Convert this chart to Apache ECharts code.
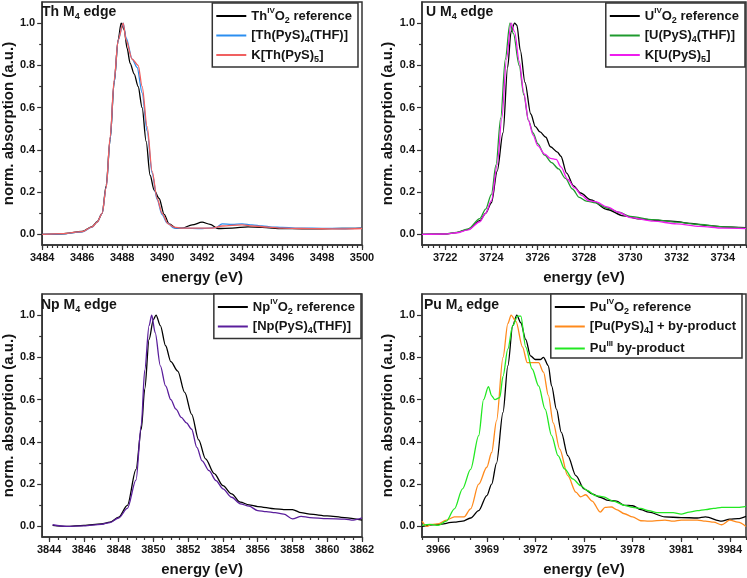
<!DOCTYPE html>
<html>
<head>
<meta charset="utf-8">
<script src="https://cdn.jsdelivr.net/npm/echarts@6/dist/echarts.min.js"></script>
<style>
  html, body { margin: 0; padding: 0; background: #fff; }
  #main { width: 747px; height: 578px; }
</style>
</head>
<body>
<div id="main"></div>
<script>
// ---- Th M4 edge ----
var thTicks = [3484, 3486, 3488, 3490, 3492, 3494, 3496, 3498, 3500];
var thRefE = [3484, 3485, 3486, 3486.5, 3486.75, 3487, 3487.2, 3487.4, 3487.6, 3487.8, 3487.95, 3488.1, 3488.25, 3488.4, 3488.6, 3488.8, 3489, 3489.2, 3489.4, 3489.6, 3489.85, 3490.1, 3490.35, 3490.7, 3491, 3491.5, 3492, 3492.4, 3492.8, 3493.5, 3494.3, 3495, 3496, 3497, 3498, 3499, 3500];
var thRefY = [0, 0.003, 0.014, 0.037, 0.06, 0.1, 0.23, 0.45, 0.72, 0.92, 1.0, 0.97, 0.88, 0.81, 0.76, 0.7, 0.6, 0.44, 0.28, 0.21, 0.17, 0.095, 0.05, 0.03, 0.03, 0.045, 0.058, 0.048, 0.028, 0.03, 0.036, 0.033, 0.028, 0.027, 0.027, 0.028, 0.03];
var thThfE = [3484, 3485, 3486, 3486.5, 3486.75, 3487, 3487.2, 3487.4, 3487.6, 3487.8, 3488.05, 3488.2, 3488.5, 3488.75, 3489, 3489.25, 3489.5, 3489.75, 3490, 3490.25, 3490.6, 3491, 3492, 3492.7, 3493, 3493.5, 3494, 3494.5, 3495, 3495.5, 3496, 3497, 3498, 3499, 3500];
var thThfY = [0, 0.003, 0.012, 0.035, 0.058, 0.1, 0.22, 0.45, 0.72, 0.92, 1.0, 0.93, 0.83, 0.79, 0.67, 0.49, 0.29, 0.165, 0.094, 0.055, 0.03, 0.03, 0.028, 0.032, 0.05, 0.047, 0.05, 0.045, 0.04, 0.035, 0.033, 0.03, 0.029, 0.028, 0.03];
var thKE = [3484, 3485, 3486, 3486.5, 3486.75, 3487, 3487.2, 3487.4, 3487.6, 3487.8, 3488.05, 3488.2, 3488.5, 3488.8, 3489, 3489.25, 3489.5, 3489.75, 3490, 3490.3, 3490.6, 3491, 3492, 3492.5, 3493, 3494, 3494.5, 3495.3, 3496, 3497, 3498, 3499, 3500];
var thKY = [0, 0.004, 0.013, 0.036, 0.058, 0.1, 0.22, 0.46, 0.73, 0.92, 1.0, 0.92, 0.83, 0.8, 0.7, 0.51, 0.3, 0.17, 0.1, 0.05, 0.035, 0.03, 0.03, 0.03, 0.04, 0.045, 0.04, 0.035, 0.03, 0.028, 0.027, 0.026, 0.028];

// ---- U M4 edge ----
var uTicks = [3722, 3724, 3726, 3728, 3730, 3732, 3734];
var uRefE = [3721, 3722, 3722.5, 3723, 3723.5, 3723.75, 3724, 3724.25, 3724.5, 3724.7, 3724.85, 3725, 3725.1, 3725.25, 3725.45, 3725.7, 3725.9, 3726.1, 3726.35, 3726.55, 3726.85, 3727, 3727.25, 3727.55, 3727.85, 3728.3, 3729, 3729.7, 3730.4, 3731.2, 3731.9, 3732.6, 3733.3, 3734, 3735];
var uRefY = [0, 0.002, 0.009, 0.024, 0.065, 0.1, 0.15, 0.3, 0.48, 0.79, 0.96, 1.0, 0.99, 0.87, 0.72, 0.57, 0.51, 0.485, 0.46, 0.415, 0.39, 0.37, 0.29, 0.23, 0.196, 0.163, 0.118, 0.088, 0.074, 0.066, 0.062, 0.052, 0.043, 0.036, 0.032];
var uThfE = [3721, 3722, 3722.5, 3723, 3723.5, 3723.75, 3724, 3724.2, 3724.4, 3724.6, 3724.8, 3724.95, 3725.2, 3725.4, 3725.6, 3725.8, 3726, 3726.3, 3726.6, 3726.9, 3727.2, 3727.5, 3727.8, 3728.1, 3728.5, 3729, 3729.5, 3730, 3731, 3732, 3733, 3734, 3735];
var uThfY = [0, 0.003, 0.01, 0.026, 0.075, 0.12, 0.19, 0.33, 0.55, 0.83, 1.0, 0.95, 0.8, 0.66, 0.54, 0.48, 0.43, 0.375, 0.34, 0.31, 0.265, 0.215, 0.175, 0.158, 0.15, 0.125, 0.105, 0.085, 0.07, 0.058, 0.047, 0.036, 0.03];
var uKE = [3721, 3722, 3722.5, 3723, 3723.5, 3723.75, 3724, 3724.25, 3724.45, 3724.65, 3724.85, 3725, 3725.2, 3725.4, 3725.6, 3725.8, 3726, 3726.3, 3726.55, 3726.8, 3727, 3727.3, 3727.6, 3727.9, 3728.2, 3728.5, 3729, 3729.5, 3730, 3731, 3732, 3733, 3734, 3735];
var uKY = [0, 0.002, 0.008, 0.022, 0.06, 0.1, 0.16, 0.33, 0.55, 0.83, 1.0, 0.96, 0.82, 0.67, 0.54, 0.47, 0.42, 0.38, 0.36, 0.355, 0.32, 0.26, 0.22, 0.185, 0.16, 0.155, 0.13, 0.105, 0.08, 0.063, 0.05, 0.038, 0.03, 0.028];

// ---- Np M4 edge ----
var npTicks = [3844, 3846, 3848, 3850, 3852, 3854, 3856, 3858, 3860, 3862];
var npRefE = [3844.2, 3845, 3846, 3847, 3847.5, 3848, 3848.5, 3849, 3849.3, 3849.5, 3849.75, 3850, 3850.15, 3850.4, 3850.7, 3851, 3851.4, 3851.8, 3852.2, 3852.6, 3853, 3853.5, 3854, 3854.5, 3855, 3855.5, 3856, 3857, 3857.5, 3858, 3858.5, 3859, 3860, 3861, 3862];
var npRefY = [0.005, 0, 0.005, 0.012, 0.02, 0.044, 0.1, 0.27, 0.46, 0.65, 0.885, 0.98, 1.0, 0.95, 0.855, 0.78, 0.735, 0.634, 0.53, 0.41, 0.32, 0.25, 0.193, 0.154, 0.115, 0.102, 0.094, 0.083, 0.08, 0.08, 0.065, 0.058, 0.05, 0.042, 0.03];
var npThfE = [3844.2, 3845, 3846, 3847, 3847.5, 3848, 3848.5, 3849, 3849.3, 3849.5, 3849.75, 3849.9, 3850.1, 3850.4, 3850.7, 3851, 3851.3, 3851.6, 3851.9, 3852.2, 3852.5, 3852.8, 3853.2, 3853.6, 3854, 3854.5, 3855, 3855.5, 3856, 3856.5, 3857, 3857.5, 3858, 3858.5, 3859, 3860, 3861, 3861.5, 3862];
var npThfY = [0.008, 0, 0.003, 0.01, 0.018, 0.04, 0.085, 0.22, 0.48, 0.74, 0.95, 1.0, 0.917, 0.76, 0.665, 0.6, 0.555, 0.516, 0.49, 0.46, 0.374, 0.31, 0.264, 0.217, 0.178, 0.138, 0.107, 0.096, 0.075, 0.07, 0.065, 0.058, 0.036, 0.048, 0.042, 0.037, 0.035, 0.03, 0.04];

// ---- Pu M4 edge ----
var puTicks = [3966, 3969, 3972, 3975, 3978, 3981, 3984];
var puRefE = [3965, 3966, 3967, 3967.5, 3968, 3968.5, 3969, 3969.3, 3969.6, 3970, 3970.3, 3970.6, 3970.85, 3971.1, 3971.4, 3971.7, 3972, 3972.3, 3972.5, 3972.8, 3973, 3973.3, 3973.6, 3974, 3974.5, 3975, 3975.5, 3976, 3976.5, 3977, 3977.5, 3978, 3978.5, 3979, 3980, 3981, 3982, 3982.5, 3983.5, 3984, 3984.5, 3985];
var puRefY = [0, 0.01, 0.02, 0.025, 0.04, 0.075, 0.146, 0.2, 0.3, 0.54, 0.76, 0.95, 1.0, 0.964, 0.885, 0.807, 0.79, 0.79, 0.8, 0.76, 0.665, 0.555, 0.445, 0.335, 0.24, 0.178, 0.154, 0.138, 0.123, 0.12, 0.1, 0.098, 0.08, 0.068, 0.045, 0.042, 0.04, 0.045, 0.025, 0.035, 0.037, 0.048];
var puPysE = [3965, 3965.3, 3965.6, 3966, 3966.5, 3967, 3967.6, 3968, 3968.5, 3969, 3969.3, 3969.6, 3970, 3970.3, 3970.5, 3970.8, 3971.2, 3971.5, 3971.8, 3972.2, 3972.5, 3972.8, 3973.1, 3973.5, 3974, 3974.5, 3974.8, 3975.1, 3975.5, 3976, 3976.3, 3976.7, 3977, 3977.5, 3978, 3978.5, 3979, 3980, 3980.5, 3981, 3982, 3982.5, 3983, 3983.5, 3984, 3984.5, 3985];
var puPysY = [0.025, 0, 0.01, 0.012, 0.03, 0.045, 0.045, 0.083, 0.2, 0.28, 0.35, 0.5, 0.8, 0.96, 1.0, 0.97, 0.85, 0.775, 0.775, 0.775, 0.73, 0.62, 0.49, 0.366, 0.24, 0.162, 0.14, 0.15, 0.12, 0.068, 0.09, 0.092, 0.08, 0.06, 0.045, 0.027, 0.025, 0.03, 0.025, 0.03, 0.03, 0.025, 0.02, 0.008, 0.03, 0.02, 0];
var puIIIE = [3965, 3965.5, 3966, 3966.5, 3967, 3967.5, 3968, 3968.5, 3968.8, 3969.1, 3969.3, 3969.5, 3969.8, 3970, 3970.3, 3970.6, 3970.9, 3971.1, 3971.4, 3971.8, 3972.2, 3972.6, 3973, 3973.4, 3973.8, 3974.3, 3974.8, 3975.2, 3975.7, 3976.2, 3976.8, 3977.5, 3978, 3978.5, 3979, 3979.5, 3980, 3980.5, 3981, 3981.5, 3982, 3982.5, 3983, 3983.5, 3984, 3984.5, 3985];
var puIIIY = [0.005, 0.01, 0.005, 0.025, 0.083, 0.178, 0.27, 0.43, 0.6, 0.662, 0.618, 0.6, 0.61, 0.71, 0.84, 0.95, 0.995, 0.995, 0.85, 0.745, 0.665, 0.555, 0.43, 0.335, 0.272, 0.225, 0.193, 0.17, 0.146, 0.14, 0.12, 0.1, 0.09, 0.085, 0.075, 0.065, 0.065, 0.065, 0.058, 0.068, 0.075, 0.08, 0.085, 0.09, 0.09, 0.09, 0.095];

var yTicks = [0, 0.2, 0.4, 0.6, 0.8, 1.0];
var yMinorTicks = [0.1, 0.3, 0.5, 0.7, 0.9];

var FONT = '"Liberation Sans", Arial, sans-serif';
var INK = '#151515';
var FRAME = '#333';

function pairs(xs, ys) {
  return xs.map(function (x, i) { return [x, ys[i]]; });
}
function steps(min, max, step) {
  var out = [];
  for (var v = Math.ceil(min / step - 1e-9) * step; v <= max + 1e-9; v += step) out.push(+v.toFixed(3));
  return out;
}

var rich = {
  n: { fontFamily: FONT, fontWeight: 'bold', fontSize: 13, color: INK, lineHeight: 18 },
  up: { fontFamily: FONT, fontWeight: 'bold', fontSize: 8, color: INK, lineHeight: 8, verticalAlign: 'top' },
  dn: { fontFamily: FONT, fontWeight: 'bold', fontSize: 9, color: INK, lineHeight: 9, verticalAlign: 'bottom' }
};
var titleRich = {
  n: { fontFamily: FONT, fontWeight: 'bold', fontSize: 14, color: INK, lineHeight: 18 },
  dn: { fontFamily: FONT, fontWeight: 'bold', fontSize: 9, color: INK, lineHeight: 9, verticalAlign: 'bottom' }
};

var panels = [
  { grid: { left: 38, top: 2, width: 324, height: 243 }, xMin: 3484, xMax: 3500, ticks: thTicks, minor: 0.25, yGap: 20,
    title: '{n|Th M}{dn|4}{n| edge}', titlePos: [42, 3],
    legend: { right: 389, top: 3 },
    series: [
      { name: 'thRef', label: '{n|Th}{up|IV}{n|O}{dn|2}{n| reference}', color: '#000000', data: pairs(thRefE, thRefY) },
      { name: 'thThf', label: '{n|[Th(PyS)}{dn|4}{n|(THF)]}', color: '#2b8ef0', data: pairs(thThfE, thThfY) },
      { name: 'thK', label: '{n|K[Th(PyS)}{dn|5}{n|]}', color: '#f06060', data: pairs(thKE, thKY) }
    ] },
  { grid: { left: 422, top: 2, width: 324, height: 243 }, xMin: 3721, xMax: 3735, ticks: uTicks, minor: 0.25, yGap: 20,
    title: '{n|U M}{dn|4}{n| edge}', titlePos: [426, 3],
    legend: { right: 2, top: 3 },
    series: [
      { name: 'uRef', label: '{n|U}{up|IV}{n|O}{dn|2}{n| reference}', color: '#000000', data: pairs(uRefE, uRefY) },
      { name: 'uThf', label: '{n|[U(PyS)}{dn|4}{n|(THF)]}', color: '#1f9a2e', data: pairs(uThfE, uThfY) },
      { name: 'uK', label: '{n|K[U(PyS)}{dn|5}{n|]}', color: '#ee1cee', data: pairs(uKE, uKY) }
    ] },
  { grid: { left: 36, top: 294, width: 326, height: 244 }, xMin: 3843.6, xMax: 3862, ticks: npTicks, minor: 0.5, yGap: 18,
    title: '{n|Np M}{dn|4}{n| edge}', titlePos: [41, 296],
    legend: { right: 386, top: 294 },
    series: [
      { name: 'npRef', label: '{n|Np}{up|IV}{n|O}{dn|2}{n| reference}', color: '#000000', data: pairs(npRefE, npRefY) },
      { name: 'npThf', label: '{n|[Np(PyS)}{dn|4}{n|(THF)]}', color: '#5a1e9c', data: pairs(npThfE, npThfY) }
    ] },
  { grid: { left: 422, top: 294, width: 324, height: 244 }, xMin: 3965, xMax: 3985, ticks: puTicks, minor: 1, yGap: 20,
    title: '{n|Pu M}{dn|4}{n| edge}', titlePos: [424, 296],
    legend: { right: 5, top: 294 },
    series: [
      { name: 'puRef', label: '{n|Pu}{up|IV}{n|O}{dn|2}{n| reference}', color: '#000000', data: pairs(puRefE, puRefY) },
      { name: 'puPys', label: '{n|[Pu(PyS)}{dn|4}{n|] + by-product}', color: '#ff8a1c', data: pairs(puPysE, puPysY) },
      { name: 'puIII', label: '{n|Pu}{up|III}{n| by-product}', color: '#22e822', data: pairs(puIIIE, puIIIY) }
    ] }
];

var labelMap = {};
var option = { animation: false, backgroundColor: '#fff', grid: [], xAxis: [], yAxis: [], title: [], legend: [], series: [] };

panels.forEach(function (p, i) {
  option.grid.push({
    left: p.grid.left, top: p.grid.top, width: p.grid.width, height: p.grid.height,
    show: true, borderColor: FRAME, borderWidth: 1.5, backgroundColor: 'transparent'
  });
  var tickStyle = { color: FRAME, width: 1.2 };
  // main x axis: labels + major ticks
  option.xAxis.push({
    type: 'value', gridIndex: i, min: p.xMin, max: p.xMax, position: 'bottom',
    name: 'energy (eV)', nameLocation: 'middle', nameGap: 25,
    nameTextStyle: { fontFamily: FONT, fontWeight: 'bold', fontSize: 15, color: INK },
    axisLine: { show: true, onZero: false, lineStyle: { color: FRAME, width: 1.5 } },
    axisTick: { show: true, length: 5, customValues: p.ticks, lineStyle: tickStyle },
    axisLabel: { customValues: p.ticks, margin: 7, fontFamily: FONT, fontWeight: 'bold', fontSize: 11, color: INK,
      formatter: function (v) { return String(v); } },
    splitLine: { show: false }
  });
  // minor x ticks
  option.xAxis.push({
    type: 'value', gridIndex: i, min: p.xMin, max: p.xMax, position: 'bottom',
    axisLine: { show: false, onZero: false },
    axisTick: { show: true, length: 3, customValues: steps(p.xMin, p.xMax, p.minor), lineStyle: tickStyle },
    axisLabel: { show: false }, splitLine: { show: false }
  });
  option.yAxis.push({
    type: 'value', gridIndex: i, min: -0.05, max: 1.1, position: 'left',
    name: 'norm. absorption (a.u.)', nameLocation: 'middle', nameGap: p.yGap,
    nameTextStyle: { fontFamily: FONT, fontWeight: 'bold', fontSize: 15, color: INK },
    axisLine: { show: true, onZero: false, lineStyle: { color: FRAME, width: 1.5 } },
    axisTick: { show: true, length: 5, customValues: yTicks, lineStyle: tickStyle },
    axisLabel: { customValues: yTicks, margin: 7, fontFamily: FONT, fontWeight: 'bold', fontSize: 11, color: INK,
      formatter: function (v) { return v.toFixed(1); } },
    splitLine: { show: false }
  });
  option.yAxis.push({
    type: 'value', gridIndex: i, min: -0.05, max: 1.1, position: 'left',
    axisLine: { show: false, onZero: false },
    axisTick: { show: true, length: 3, customValues: yMinorTicks, lineStyle: tickStyle },
    axisLabel: { show: false }, splitLine: { show: false }
  });
  option.title.push({
    text: p.title, left: p.titlePos[0], top: p.titlePos[1], padding: 0,
    textStyle: { rich: titleRich }
  });
  var names = [];
  p.series.forEach(function (s) {
    labelMap[s.name] = s.label;
    names.push(s.name);
    option.series.push({
      type: 'line', name: s.name, xAxisIndex: 2 * i, yAxisIndex: 2 * i,
      data: s.data, showSymbol: false, smooth: 0.3, smoothMonotone: 'x',
      lineStyle: { color: s.color, width: 1.3 }, itemStyle: { color: s.color },
      z: 3
    });
  });
  option.legend.push({
    data: names, orient: 'vertical', right: p.legend.right, top: p.legend.top,
    padding: [4, 6, 3, 4], itemGap: 4, itemWidth: 30, itemHeight: 2, icon: 'rect',
    borderColor: FRAME, borderWidth: 1.5, backgroundColor: '#fff', selectedMode: false,
    formatter: function (name) { return labelMap[name]; },
    textStyle: { fontFamily: FONT, fontWeight: 'bold', fontSize: 13, color: INK, rich: rich }
  });
});

var chart = echarts.init(document.getElementById('main'), null, { renderer: 'canvas' });
chart.setOption(option);
</script>
</body>
</html>
